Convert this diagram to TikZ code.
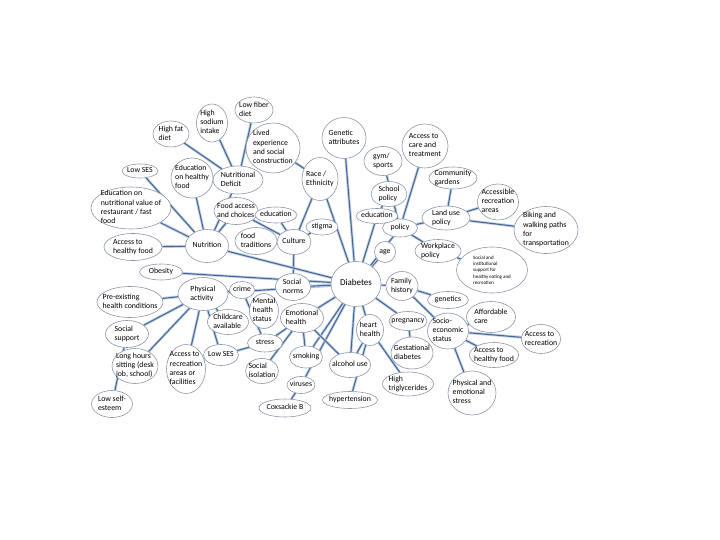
\documentclass[tikz,border=0pt]{standalone}
\usepackage{fontspec}
\setmainfont{Carlito}
\usetikzlibrary{shapes.geometric, backgrounds}
\definecolor{linkblue}{RGB}{72,104,148}
\definecolor{glowblue}{RGB}{196,212,234}
\definecolor{rimgray}{RGB}{140,150,168}
\newcommand{\bubtext}[1]{\makebox[0pt]{\smash{\raisebox{-1.8pt}{\begin{tabular}{@{}l@{}}#1\end{tabular}}}}}

\begin{document}
\begin{tikzpicture}[x=1pt, y=-1pt,
            bub/.style = {ellipse, draw=rimgray, line width=0.6pt, fill=white,
                          inner sep=0pt, font=\fontsize{7.8}{9.2}\selectfont},
            link/.style = {draw=linkblue, line width=1.1pt,
                           preaction={draw=glowblue, line width=2.8pt}}
                        ]
            \useasboundingbox (0,0) rectangle (720,540);
            % centre
            \node[bub, minimum width=50pt, minimum height=45pt, font=\fontsize{9}{11}\selectfont] (diab) at (356,284) {\bubtext{Diabetes}};
            % nutrition
            \node[bub, minimum width=36pt, minimum height=26pt] (hfat) at (171,134) {\bubtext{High fat\\diet}};
            \node[bub, minimum width=31pt, minimum height=38pt] (hsod) at (212,123) {\bubtext{High\\sodium\\intake}};
            \node[bub, minimum width=38pt, minimum height=26pt] (lfib) at (254,110) {\bubtext{Low fiber\\diet}};
            \node[bub, minimum width=50pt, minimum height=28pt] (ndef) at (238,180) {\bubtext{Nutritional\\Deficit}};
            \node[bub, minimum width=42pt, minimum height=40pt] (eduhf) at (192,178) {\bubtext{Education\\on healthy\\food}};
            \node[bub, minimum width=36pt, minimum height=14pt] (lses) at (140,171) {\bubtext{Low SES}};
            \node[bub, minimum width=80pt, minimum height=42pt] (edunv) at (131,208) {\bubtext{Education on\\nutritional value of\\restaurant / fast\\food}};
            \node[bub, minimum width=44pt, minimum height=27pt] (facc) at (236,211) {\bubtext{Food access\\and choices}};
            \node[bub, minimum width=43pt, minimum height=33pt] (nutr) at (207,246) {\bubtext{Nutrition}};
            \node[bub, minimum width=58pt, minimum height=27pt] (ahf) at (133,247) {\bubtext{Access to\\healthy food}};
            \node[bub, minimum width=43pt, minimum height=16pt] (obes) at (161,272) {\bubtext{Obesity}};
            % culture
            \node[bub, minimum width=54pt, minimum height=50pt] (lived) at (273,148) {\bubtext{Lived\\experience\\and social\\construction}};
            \node[bub, minimum width=42pt, minimum height=16pt] (educ) at (276,215) {\bubtext{education}};
            \node[bub, minimum width=42pt, minimum height=27pt] (ftrad) at (256,241) {\bubtext{food\\traditions}};
            \node[bub, minimum width=34pt, minimum height=25pt] (cult) at (294,242) {\bubtext{Culture}};
            \node[bub, minimum width=44pt, minimum height=41pt] (genat) at (344,138) {\bubtext{Genetic\\attributes}};
            \node[bub, minimum width=36pt, minimum height=43pt] (race) at (320,179) {\bubtext{Race /\\Ethnicity}};
            \node[bub, minimum width=32pt, minimum height=16pt] (stig) at (322,227) {\bubtext{stigma}};
            \node[bub, minimum width=35pt, minimum height=27pt] (snorm) at (293,287) {\bubtext{Social\\norms}};
            % physical activity
            \node[bub, minimum width=50pt, minimum height=33pt] (phys) at (203,294) {\bubtext{Physical\\activity}};
            \node[bub, minimum width=66pt, minimum height=31pt] (pre) at (130,302) {\bubtext{Pre-existing\\health conditions}};
            \node[bub, minimum width=43pt, minimum height=27pt] (ssup) at (127,334) {\bubtext{Social\\support}};
            \node[bub, minimum width=46pt, minimum height=35pt] (lhs) at (135,366) {\bubtext{Long hours\\sitting (desk\\job, school)}};
            \node[bub, minimum width=39pt, minimum height=49pt] (arec) at (186,369) {\bubtext{Access to\\recreation\\areas or\\facilities}};
            \node[bub, minimum width=35pt, minimum height=21pt] (lses2) at (221,355) {\bubtext{Low SES}};
            \node[bub, minimum width=41pt, minimum height=27pt] (lse) at (112,404) {\bubtext{Low self-\\esteem}};
            \node[bub, minimum width=25pt, minimum height=17pt] (crime) at (242,290) {\bubtext{crime}};
            \node[bub, minimum width=41pt, minimum height=25pt] (child) at (228,322) {\bubtext{Childcare\\available}};
            % emotional health
            \node[bub, minimum width=29pt, minimum height=35pt] (mhs) at (264,311) {\bubtext{Mental\\health\\status}};
            \node[bub, minimum width=35pt, minimum height=18pt] (stress) at (265,343) {\bubtext{stress}};
            \node[bub, minimum width=33pt, minimum height=25pt] (siso) at (262,371) {\bubtext{Social\\isolation}};
            \node[bub, minimum width=43pt, minimum height=29pt] (emo) at (302,318) {\bubtext{Emotional\\health}};
            \node[bub, minimum width=33pt, minimum height=22pt] (smok) at (306,357) {\bubtext{smoking}};
            \node[bub, minimum width=28pt, minimum height=17pt] (vir) at (301,385) {\bubtext{viruses}};
            \node[bub, minimum width=52pt, minimum height=18pt] (cox) at (285,408) {\bubtext{Coxsackie B}};
            % heart
            \node[bub, minimum width=41pt, minimum height=25pt] (alc) at (350,365) {\bubtext{alcohol use}};
            \node[bub, minimum width=55pt, minimum height=17pt] (hyp) at (350,400) {\bubtext{hypertension}};
            \node[bub, minimum width=27pt, minimum height=31pt] (heart) at (370,330) {\bubtext{heart\\health}};
            \node[bub, minimum width=51pt, minimum height=24pt] (trig) at (408,384) {\bubtext{High\\triglycerides}};
            \node[bub, minimum width=38pt, minimum height=19pt] (preg) at (408,321) {\bubtext{pregnancy}};
            \node[bub, minimum width=42pt, minimum height=32pt] (gest) at (412,353) {\bubtext{Gestational\\diabetes}};
            % family and SES
            \node[bub, minimum width=32pt, minimum height=29pt] (fam) at (402,286) {\bubtext{Family\\history}};
            \node[bub, minimum width=41pt, minimum height=17pt] (gen) at (448,300) {\bubtext{genetics}};
            \node[bub, minimum width=41pt, minimum height=36pt] (ses) at (448,331) {\bubtext{Socio-\\economic\\status}};
            \node[bub, minimum width=49pt, minimum height=31pt] (afc) at (491,317) {\bubtext{Affordable\\care}};
            \node[bub, minimum width=39pt, minimum height=29pt] (arec2) at (541,339) {\bubtext{Access to\\recreation}};
            \node[bub, minimum width=49pt, minimum height=25pt] (ahf2) at (494,355) {\bubtext{Access to\\healthy food}};
            \node[bub, minimum width=48pt, minimum height=44pt] (pes) at (472,393) {\bubtext{Physical and\\emotional\\stress}};
            % policy
            \node[bub, minimum width=21pt, minimum height=21pt] (age) at (385,252) {\bubtext{age}};
            \node[bub, minimum width=35pt, minimum height=18pt] (pol) at (400,228) {\bubtext{policy}};
            \node[bub, minimum width=42pt, minimum height=15pt] (educ2) at (377,216) {\bubtext{education}};
            \node[bub, minimum width=36pt, minimum height=25pt] (spol) at (389,194) {\bubtext{School\\policy}};
            \node[bub, minimum width=38pt, minimum height=29pt] (gym) at (383,161) {\bubtext{gym/\\sports}};
            \node[bub, minimum width=46pt, minimum height=44pt] (acare) at (425,146) {\bubtext{Access to\\care and\\treatment}};
            \node[bub, minimum width=48pt, minimum height=22pt] (cgard) at (453,178) {\bubtext{Community\\gardens}};
            \node[bub, minimum width=48pt, minimum height=24pt] (land) at (446,218) {\bubtext{Land use\\policy}};
            \node[bub, minimum width=41pt, minimum height=36pt] (accrec) at (498,202) {\bubtext{Accessible\\recreation\\areas}};
            \node[bub, minimum width=64pt, minimum height=47pt] (bike) at (546,230) {\bubtext{Biking and\\walking paths\\for\\transportation}};
            \node[bub, minimum width=46pt, minimum height=23pt] (work) at (438,251) {\bubtext{Workplace\\policy}};
            \node[bub, minimum width=71pt, minimum height=46pt, font=\fontsize{5}{6.3}\selectfont] (sis) at (492,270) {\bubtext{Social and\\institutional\\support for\\healthy eating and\\recreation}};
            % links
            \begin{scope}[on background layer]
            \fill[white] (0,0) rectangle (720,540);
            \foreach \a/\b in {hfat/ndef, hsod/ndef, lfib/ndef, ndef/nutr, lses/nutr, eduhf/nutr,
                               edunv/nutr, ahf/nutr, facc/nutr, facc/cult, educ/cult, stig/cult,
                               lived/race, race/cult, race/diab, cult/snorm, genat/diab, nutr/diab,
                               obes/diab, phys/diab, snorm/diab, emo/diab, smok/diab, vir/diab,
                               alc/diab, heart/diab, preg/diab, fam/diab, age/diab, educ2/diab,
                               pol/diab, spol/educ2, gym/pol, acare/pol, land/pol, pol/work,
                               work/sis, cgard/land, land/accrec, land/bike, fam/gen, fam/ses,
                               ses/afc, ses/arec2, ses/ahf2, ses/pes, preg/gest, heart/trig,
                               heart/hyp, heart/alc, emo/alc, emo/smok, emo/stress, emo/siso,
                               crime/stress, stress/lses2, vir/cox, phys/pre, phys/ssup, phys/lhs,
                               phys/arec, phys/lses2, phys/child, phys/crime, ssup/lse}
                \draw[link] (\a) -- (\b);
            \end{scope}
    \end{tikzpicture}
\end{document}
